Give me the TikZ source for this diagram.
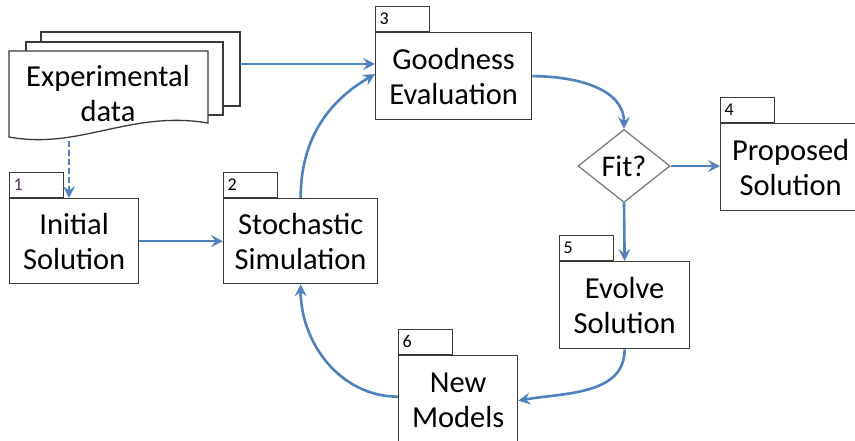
\documentclass[tikz,border=0pt]{standalone}
\usepackage{fontspec}
\setmainfont{Carlito}
\usetikzlibrary{shapes.geometric,arrows.meta}
\definecolor{arrowblue}{HTML}{4F81BD}
\definecolor{boxline}{HTML}{3A3A3A}
\definecolor{numpurple}{HTML}{5B2C6F}
\begin{document}
\begin{tikzpicture}[x=1pt,y=-1pt,
  box/.style={draw=boxline, line width=1.3pt, fill=white, anchor=north west, inner sep=0pt,
    align=center, font=\fontsize{30.5}{35}\selectfont},
  tab/.style={draw=boxline, line width=1.3pt, fill=white, anchor=south west, inner sep=0pt,
    minimum width=54pt, minimum height=25pt, text width=46pt, align=left,
    font=\fontsize{18}{18}\selectfont},
  doc/.style={draw=boxline, line width=1.3pt, fill=white},
  flow/.style={draw=arrowblue, line width=2.6pt, -{Stealth[length=12pt,width=12pt,inset=4.5pt]}},
]
\useasboundingbox (0,0) rectangle (855,441);

% experimental data stack
\draw[doc] (41,32) rectangle (240,106);
\draw[doc] (26,42) rectangle (223,115);
\draw[doc] (9,51) -- (208,51) -- (208,123) .. controls (130,110) and (80,150) .. (9,137) -- cycle;
\node[font=\fontsize{30.5}{35}\selectfont, align=center] (data) at (108,94) {Experimental\\data};
\coordinate (dataout) at (240,64);
\coordinate (datain) at (69,141);

% boxes
\node[box, minimum width=129pt, minimum height=85pt] (init) at (9,198) {Initial\\Solution};
\node[tab, text=numpurple] (t1) at (init.north west) {1};

\node[box, minimum width=154pt, minimum height=85pt] (stoch) at (223,198) {Stochastic\\Simulation};
\node[tab] (t2) at (stoch.north west) {2};

\node[box, minimum width=156pt, minimum height=87pt] (good) at (375,32) {Goodness\\Evaluation};
\node[tab] (t3) at (good.north west) {3};

\node[box, minimum width=140pt, minimum height=87pt] (prop) at (720,123) {Proposed\\Solution};
\node[tab] (t4) at (prop.north west) {4};

\node[box, minimum width=130pt, minimum height=87pt] (evolve) at (559,261) {Evolve\\Solution};
\node[tab] (t5) at (evolve.north west) {5};

\node[box, minimum width=119pt, minimum height=90pt] (models) at (398,355) {New\\Models};
\node[tab] (t6) at (models.north west) {6};

\node[diamond, draw=gray!90!black, line width=1.2pt, fill=white, inner sep=0pt,
  minimum width=92pt, minimum height=73pt, font=\fontsize{30}{30}\selectfont] (fit) at (624,166) {Fit?};

% connectors
\draw[flow] (dataout) -- (good.west |- dataout);
\draw[flow, dash pattern=on 6pt off 3pt] (datain) -- (datain |- init.north);
\draw[flow] (init.east) -- (stoch.west);
\draw[flow] (stoch.north) to[out=90, in=210] ([yshift=2pt]good.west);
\draw[flow] (good.east) to[out=0, in=90] (fit.north);
\draw[flow] (fit.east) -- (prop.west |- fit.east);
\draw[flow] (fit.south) -- (evolve.north);
\draw[flow] (evolve.south) to[out=-90, in=10] (models.east);
\draw[flow] ([yshift=4pt]models.west) to[out=180, in=-90] (stoch.south);
\end{tikzpicture}
\end{document}
